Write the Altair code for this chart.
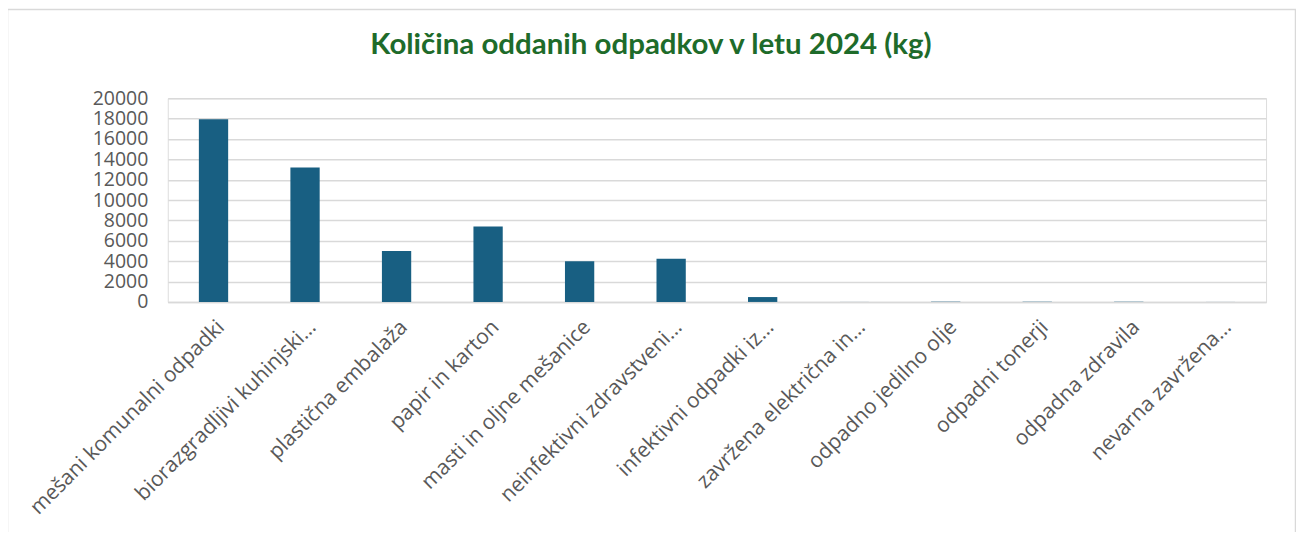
import altair as alt
import pandas as pd

categories = [
    "mešani komunalni odpadki",
    "biorazgradljivi kuhinjski…",
    "plastična embalaža",
    "papir in karton",
    "masti in oljne mešanice",
    "neinfektivni zdravstveni…",
    "infektivni odpadki iz…",
    "zavržena električna in…",
    "odpadno jedilno olje",
    "odpadni tonerji",
    "odpadna zdravila",
    "nevarna zavržena…",
]
values = [17950, 13200, 5000, 7400, 4000, 4250, 480, 5, 30, 25, 25, 5]
y_ticks = list(range(0, 20001, 2000))
title_text = "Količina oddanih odpadkov v letu 2024 (kg)"

df = pd.DataFrame({"kategorija": categories, "kg": values})

LABEL_FONT = "Open Sans"
GRAY = "#595959"

bars = alt.Chart(df).mark_bar(color="#185F82").encode(
    x=alt.X(
        "kategorija:N",
        sort=categories,
        scale=alt.Scale(paddingInner=0.68, paddingOuter=0.34),
        axis=alt.Axis(
            title=None,
            labelAngle=-45,
            labelFont=LABEL_FONT,
            labelFontSize=21,
            labelColor=GRAY,
            labelLimit=400,
            labelPadding=14,
            ticks=False,
            domainColor="#d9d9d9",
            domainWidth=1.5,
        ),
    ),
    y=alt.Y(
        "kg:Q",
        scale=alt.Scale(domain=[0, 20000], nice=False),
        axis=alt.Axis(
            title=None,
            values=y_ticks,
            format="d",
            labelFont=LABEL_FONT,
            labelFontSize=19.5,
            labelColor=GRAY,
            labelPadding=20,
            ticks=False,
            domain=False,
            gridColor="#d9d9d9",
            gridWidth=1.5,
        ),
    ),
)

one = pd.DataFrame({"t": [title_text]})

border = alt.Chart(one).mark_rect(
    fill=None, stroke="#d9d9d9", strokeWidth=1.5, clip=False
).encode(
    x=alt.value(-160.5),
    x2=alt.value(1129.5),
    y=alt.value(-89),
    y2=alt.value(520),
)

title = alt.Chart(one).mark_text(
    font="Lato",
    fontSize=29.5,
    fontWeight="bold",
    color="#1E6B2A",
    align="center",
    baseline="alphabetic",
).encode(
    text="t:N",
    x=alt.value(484),
    y=alt.value(-44),
)

chart = alt.layer(border, title, bars).properties(
    width=1100,
    height=204,
    padding={"left": 160, "top": 90, "right": 30, "bottom": 230},
    autosize=alt.AutoSizeParams(type="none"),
).configure_view(stroke=None).configure(background="white")

chart.save("out.html", embed_options={"renderer": "svg", "actions": False})
